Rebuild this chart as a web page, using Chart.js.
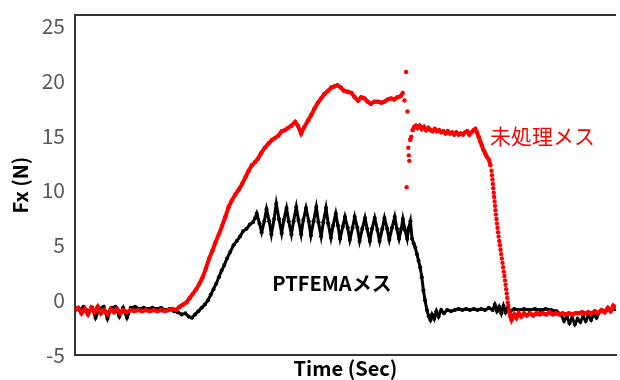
<!DOCTYPE html>
<html><head><meta charset="utf-8">
<script src="https://cdn.jsdelivr.net/npm/chart.js@4"></script>
<style>html,body{margin:0;padding:0;background:#fff}canvas{display:block}</style>
</head><body>
<canvas id="c" width="620" height="380"></canvas>
<script>
const seriesNames = ['未処理メス', 'PTFEMAメス'];
const xTitle = 'Time (Sec)';
const yTitle = 'Fx (N)';
const yTicks = [-5, 0, 5, 10, 15, 20, 25];

const redTime = [0,0.6,1.2,1.8,2.4,3.0,3.6,4.2,4.8,5.4,6.0,6.6,7.2,7.8,8.4,9.0,9.6,10.3,11.0,11.7,12.4,13.1,13.8,14.5,15.2,15.9,16.6,17.3,18.0,18.7,19.3,
20.0,20.6,21.2,21.8,22.4,23.0,23.6,24.2,24.8,25.4,26.0,26.6,27.2,27.8,28.4,29.0,29.6,30.3,30.9,31.5,32.1,32.7,33.3,
33.8,34.4,35.1,35.8,36.4,37.0,37.6,38.2,38.8,39.4,40.0,40.7,41.2,41.8,42.4,43.1,43.7,44.3,44.9,45.5,46.1,46.8,47.4,48.0,48.5,49.1,49.7,50.4,51.1,51.7,52.3,52.9,53.5,54.1,54.7,55.3,56.0,56.6,57.2,57.8,58.4,59.0,59.6,60.2,60.6,60.9,
61.2,61.3,61.45,61.6,61.7,61.8,61.95,62.15,62.4,62.7,63.0,63.3,63.7,64.1,64.5,64.9,65.3,65.7,66.1,66.5,66.9,67.3,67.7,68.1,68.5,68.9,69.3,69.7,70.1,70.5,70.9,71.3,71.7,72.1,72.5,72.9,73.3,73.7,74.0,74.3,
74.6,74.9,75.2,75.5,75.8,76.1,76.5,76.8,77.0,77.08,77.16,77.24,77.32,77.4,77.48,77.56,77.64,77.72,77.8,77.9,78.0,78.1,78.2,78.3,78.42,78.54,78.66,78.78,78.9,79.02,79.14,79.26,79.38,79.5,79.6,79.7,79.8,79.9,80.0,80.1,80.22,80.35,80.5,80.7,80.9,
81.2,81.6,82.0,82.5,83.0,83.5,84.1,84.7,85.3,85.9,86.5,87.1,87.7,88.3,88.9,89.5,90.1,90.7,91.3,91.9,92.5,93.1,93.7,94.3,94.9,95.5,96.1,96.7,97.3,97.9,98.5,99.0,99.5,100];
const redForce = [-0.9,-0.7,-1.2,-0.8,-1.3,-0.7,-1.1,-0.6,-1.2,-0.9,-1.3,-0.8,-1.1,-0.8,-1.2,-0.9,-1.1,-0.9,-1.0,-0.9,-1.0,-0.9,-1.0,-0.9,-1.0,-0.9,-1.0,-0.9,-0.8,-0.9,-0.6,
-0.4,-0.2,0.2,0.6,1.0,1.5,2.1,2.9,3.8,4.5,5.3,6.0,6.8,7.6,8.5,9.1,9.6,10.1,10.6,11.2,11.8,12.3,12.6,
12.9,13.4,13.9,14.3,14.6,14.8,15.0,15.4,15.5,15.7,15.9,16.25,15.9,15.2,15.8,16.4,16.9,17.5,18.0,18.4,18.8,19.1,19.4,19.5,19.6,19.4,19.1,19.0,18.9,18.5,18.2,18.5,18.4,18.1,17.9,18.1,18.1,18.0,18.1,18.3,18.4,18.3,18.5,18.6,18.9,18.2,
20.8,10.3,17.2,13.9,13.2,12.7,14.6,14.9,15.5,15.8,15.9,15.7,15.9,15.6,15.8,15.5,15.7,15.5,15.4,15.6,15.4,15.5,15.3,15.4,15.2,15.4,15.2,15.3,15.1,15.3,15.1,15.2,15.1,15.3,15.4,15.1,15.3,15.5,15.6,15.3,
14.9,14.5,14.1,13.7,13.4,13.1,12.8,12.3,11.8,11.4,11.0,10.6,10.2,9.8,9.4,9.0,8.6,8.2,7.8,7.4,7.0,6.6,6.2,5.8,5.4,5.0,4.6,4.2,3.8,3.4,3.0,2.6,2.2,1.8,1.4,1.0,0.6,0.2,-0.2,-0.5,-0.9,-1.2,-1.5,-1.8,-1.6,
-1.3,-1.6,-1.2,-1.5,-1.2,-1.4,-1.2,-1.4,-1.2,-1.3,-1.2,-1.3,-1.1,-1.3,-1.2,-1.3,-1.2,-1.3,-1.2,-1.3,-1.2,-1.2,-1.1,-1.2,-1.1,-1.2,-1.0,-1.2,-0.9,-1.1,-0.7,-1.0,-0.5,-0.7];

const blackTime = [0,0.8,1.6,2.4,3.2,3.8,4.5,5.3,6.0,6.7,7.5,8.2,8.9,9.6,10.3,11.1,11.9,12.7,13.5,14.3,15.1,15.9,16.7,17.5,18.3,19.0,19.7,20.4,21.0,21.6,22.2,22.8,
23.4,24.0,24.6,25.1,25.6,26.1,26.6,27.1,27.6,28.1,28.7,29.3,29.9,30.5,31.1,31.7,32.3,32.9,33.3,
33.6,34.1,34.5,35.0,35.4,35.9,36.3,36.8,37.2,37.7,38.2,38.6,39.1,39.5,40.0,40.4,40.9,41.3,41.8,42.2,42.7,43.2,43.6,44.1,44.6,45.0,45.5,45.9,46.4,46.8,47.3,47.7,48.2,48.6,49.0,49.5,49.9,50.4,50.8,51.3,51.7,52.2,52.6,53.1,53.6,54.0,54.5,54.9,55.4,55.9,56.3,56.8,57.2,57.7,58.1,58.6,59.1,59.5,59.9,60.3,60.6,61.0,61.4,61.7,62.0,
62.3,62.6,62.9,63.2,63.5,63.8,64.1,64.4,64.7,65.05,65.4,65.7,
66.0,66.4,66.8,67.2,67.7,68.2,68.8,69.5,70.2,70.9,71.6,72.3,73.0,73.7,74.4,75.1,75.8,76.5,77.2,77.6,78.0,78.4,78.8,79.2,79.6,80.0,80.5,81.2,82.0,83.0,84.0,85.0,86.0,87.0,88.0,89.0,89.8,90.4,90.9,91.4,91.9,92.4,92.9,93.4,93.9,94.4,94.9,95.4,95.9,96.4,96.9,97.6,98.3,99.0,100];
const blackForce = [-0.7,-0.9,-0.6,-1.0,-0.7,-1.6,-0.8,-0.6,-1.7,-0.7,-0.6,-1.5,-0.7,-1.6,-0.7,-0.6,-0.8,-0.7,-0.8,-0.7,-0.8,-0.7,-0.9,-0.8,-1.0,-1.1,-1.3,-1.2,-1.5,-1.6,-1.3,-1.0,
-0.7,-0.4,0.0,0.5,1.0,1.5,2.1,2.7,3.2,3.8,4.4,5.0,5.4,5.8,6.3,6.5,6.9,7.1,7.5,
7.9,7.0,6.2,7.2,8.3,7.2,6.0,7.4,8.8,7.4,6.1,7.3,8.4,7.2,6.0,7.2,8.5,7.3,6.0,7.3,8.4,7.2,5.9,7.2,8.5,7.1,5.8,7.1,8.4,7.0,5.7,6.8,7.9,6.8,5.6,6.7,7.6,6.6,5.5,6.6,7.6,6.6,5.4,6.5,7.5,6.5,5.4,6.5,7.5,6.4,5.4,6.5,7.5,6.5,5.5,6.6,7.6,6.5,5.6,6.5,7.4,6.4,5.6,6.6,7.2,
5.6,5.2,4.8,4.2,3.6,3.0,2.1,0.9,0.0,-0.9,-1.5,-1.8,
-1.3,-1.7,-1.0,-1.5,-0.9,-1.2,-0.9,-1.0,-0.9,-0.8,-0.9,-0.8,-0.9,-0.8,-0.9,-0.8,-0.9,-0.7,-0.9,-0.4,-1.0,-0.6,-1.2,-0.5,-1.1,-0.7,-1.0,-0.8,-0.9,-0.8,-0.9,-0.8,-0.9,-0.8,-0.9,-1.0,-1.3,-1.9,-1.5,-2.1,-1.6,-2.2,-1.7,-2.0,-1.5,-1.9,-1.4,-1.8,-1.3,-1.6,-1.1,-1.0,-0.9,-0.9,-0.8];

const RED = '#FF0000', BLACK = '#000000', AXIS = '#333333';
const FONT = "'Noto Sans CJK JP', 'Noto Sans', sans-serif";
const toPts = (xs, ys) => xs.map((x, i) => ({x: x, y: ys[i]}));

const labelPlugin = {
  id: 'seriesLabels',
  afterDatasetsDraw(chart, args, opts) {
    const {ctx} = chart;
    const xs = chart.scales.x, ys = chart.scales.y;
    ctx.save();
    opts.items.forEach(it => {
      ctx.font = `${it.weight} ${it.size}px ${FONT}`;
      ctx.fillStyle = it.color;
      ctx.textAlign = 'center';
      ctx.textBaseline = 'middle';
      ctx.fillText(it.text, xs.getPixelForValue(it.x), ys.getPixelForValue(it.y));
    });
    ctx.restore();
  }
};

const frameTop = {
  id: 'frameTop',
  afterDraw(chart) {
    const {ctx, chartArea: a} = chart;
    ctx.save();
    ctx.strokeStyle = AXIS;
    ctx.lineWidth = 2;
    ctx.beginPath();
    ctx.moveTo(a.left - 1, a.top);
    ctx.lineTo(a.right, a.top);
    ctx.stroke();
    ctx.restore();
  }
};

const steepHidden = color => ctx => {
  const dx = Math.abs(ctx.p1.parsed.x - ctx.p0.parsed.x);
  const dy = Math.abs(ctx.p1.parsed.y - ctx.p0.parsed.y);
  return (dx === 0 || dy / dx > 2.2) ? 'rgba(0,0,0,0)' : color;
};

new Chart(document.getElementById('c'), {
  type: 'scatter',
  data: {
    datasets: [
      { label: seriesNames[0], data: toPts(redTime, redForce), showLine: true,
        borderColor: RED, backgroundColor: RED, borderWidth: 4,
        pointRadius: 2.2, pointBorderWidth: 0, pointBackgroundColor: RED,
        segment: { borderColor: steepHidden(RED) } },
      { label: seriesNames[1], data: toPts(blackTime, blackForce), showLine: true,
        borderColor: BLACK, backgroundColor: BLACK, borderWidth: 3,
        pointRadius: 2.0, pointBorderWidth: 0, pointBackgroundColor: BLACK }
    ]
  },
  options: {
    responsive: false, animation: false, devicePixelRatio: 1,
    layout: { padding: { top: 15, left: 0, right: 0, bottom: 0 } },
    plugins: {
      legend: { display: false },
      tooltip: { enabled: false },
      seriesLabels: { items: [
        { text: seriesNames[0], x: 86.4, y: 15.0, color: RED, weight: 'normal', size: 21 },
        { text: seriesNames[1], x: 47.5, y: 1.55, color: BLACK, weight: 'bold', size: 20 }
      ] }
    },
    scales: {
      x: { type: 'linear', position: 'bottom', min: 0, max: 100,
        ticks: { display: false }, grid: { display: false, drawTicks: false },
        border: { display: true, color: AXIS, width: 2 },
        title: { display: true, text: xTitle, color: '#000', font: { family: FONT, size: 20, weight: 'bold' }, padding: { top: 0, bottom: 0 } },
        afterFit: s => { s.height = 25; s.paddingLeft = 0; s.paddingRight = 0; } },
      y: { type: 'linear', min: -5, max: 26,
        ticks: { color: '#595959', font: { family: FONT, size: 21 }, padding: 10 },
        grid: { display: false, drawTicks: false },
        border: { display: true, color: AXIS, width: 2 },
        title: { display: true, text: yTitle, color: '#000', font: { family: FONT, size: 20, weight: 'bold' }, padding: { top: 8, bottom: 0 } },
        afterBuildTicks: s => { s.ticks = yTicks.map(v => ({ value: v })); },
        afterFit: s => { s.width = 75; s.paddingTop = 0; s.paddingBottom = 0; } }
    }
  },
  plugins: [labelPlugin, frameTop]
});
</script>
</body></html>
